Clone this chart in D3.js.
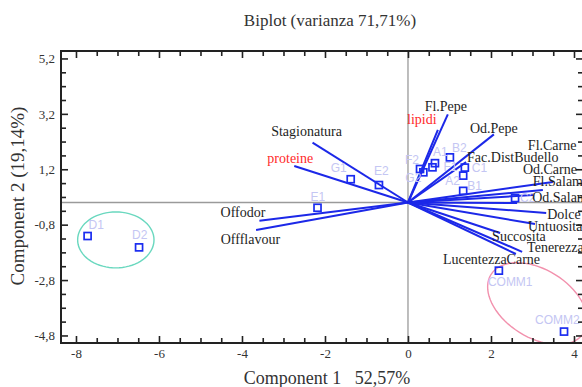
<!DOCTYPE html>
<html>
<head>
<meta charset="utf-8">
<script src="https://cdn.jsdelivr.net/npm/d3@7/dist/d3.min.js"></script>
<style>
  body { margin: 0; background: #fff; }
  svg { display: block; }
</style>
</head>
<body>
<div id="chart"></div>
<script>
// observations (scores)
const pointNames = ["D1", "D2", "E1", "G1", "E2", "F2", "G2", "F1", "A1", "B2", "C1", "A2", "B1", "C2", "COMM1", "COMM2"];
const pointX = [-7.72, -6.48, -2.18, -1.38, -0.70, 0.29, 0.37, 0.59, 0.65, 1.01, 1.37, 1.33, 1.33, 2.58, 2.19, 3.76];
const pointY = [-1.21, -1.62, -0.19, 0.84, 0.63, 1.21, 1.09, 1.27, 1.42, 1.63, 1.26, 0.97, 0.42, 0.16, -2.46, -4.66];

// variables (loadings, already scaled to the plot)
const varNames = ["Stagionatura", "proteine", "Offodor", "Offflavour", "Fl.Pepe", "lipidi", "Od.Pepe", "Fac.DistBudello",
    "Fl.Carne", "Od.Carne", "Fl.Salame", "Od.Salame", "Dolce", "Untuosita", "Succosita", "Tenerezza", "LucentezzaCarne"];
const varX = [-2.30, -2.74, -3.58, -3.66, 0.96, 0.72, 2.07, 1.40, 3.25, 3.01, 3.49, 2.63, 3.33, 3.06, 2.22, 2.75, 2.60];
const varY = [2.16, 1.32, -0.66, -0.99, 3.18, 2.62, 2.46, 1.46, 0.45, 0.27, 0.74, -0.02, -0.38, -0.78, -1.10, -1.78, -1.86];
const redVars = ["proteine", "lipidi"];

// groups (ellipse centre and two half axes, in data units)
const groupNames = ["D", "COMM"];
const groupCx = [-7.04, 3.12];
const groupCy = [-1.35, -3.65];
const groupAxisU = [[0.92, 0], [1.12, -1.05]];
const groupAxisV = [[0, 1.01], [0.434, 1.04]];

const xMajor = [-8, -6, -4, -2, 0, 2, 4];
const yMajor = [5.2, 3.2, 1.2, -0.8, -2.8, -4.8];

const titleText = "Biplot (varianza 71,71%)";
const xTitle = "Component 1   52,57%";
const yTitle = "Component 2 (19,14%)";

// label placement (pixels, relative to the mark)
const varLabelPos = {
    "Stagionatura": ["middle", -6, -7],
    "proteine": ["middle", -4, -3],
    "Offodor": ["end", 6, -4],
    "Offflavour": ["end", 24, 14],
    "Fl.Pepe": ["middle", -2, -3],
    "lipidi": ["middle", -16, -6],
    "Od.Pepe": ["middle", 0, -1],
    "Fac.DistBudello": ["start", 1, 0],
    "Fl.Carne": ["start", -15, -40],
    "Od.Carne": ["start", -10, -21],
    "Fl.Salame": ["start", -20, 4],
    "Od.Salame": ["start", 15, -1],
    "Dolce": ["start", 1, 6],
    "Untuosita": ["start", -7, 7],
    "Succosita": ["start", -8, 8],
    "Tenerezza": ["start", 5, 0],
    "LucentezzaCarne": ["start", -73, 10]
};
const pointLabelPos = {
    D1: [1, -7], D2: [-7, -8], E1: [-7, -7], G1: [-20, -7], E2: [-5, -10],
    F2: [-15, -5], G2: [-18, 10], F1: [11, 4], A1: [-2, -7], B2: [2, -5],
    C1: [7, 4], A2: [-18, 9], B1: [4, -1], C2: [5, 4], COMM1: [-11, 15], COMM2: [-29, -8]
};
const groupColors = { D: "#6ad8bf", COMM: "#f291ad" };

const width = 582, height = 387;
const frame = { left: 61, right: 583, top: 51, bottom: 343 };
const serif = "'Liberation Serif', 'Times New Roman', serif";
const sans = "'Liberation Sans', Arial, sans-serif";

const svg = d3.select("#chart").append("svg")
    .attr("width", width)
    .attr("height", height);

const x = d3.scaleLinear().domain([-8.361, 4.217]).range([frame.left, frame.right]);
const y = d3.scaleLinear().domain([-5.072, 5.469]).range([frame.bottom, frame.top]);

const commaFmt = v => {
    const s = Number.isInteger(v) ? String(v) : v.toFixed(1).replace(".", ",");
    return s;
};

svg.append("defs").append("clipPath").attr("id", "plot-clip")
    .append("rect")
    .attr("x", frame.left).attr("y", frame.top)
    .attr("width", frame.right - frame.left)
    .attr("height", frame.bottom - frame.top);

const plot = svg.append("g").attr("clip-path", "url(#plot-clip)");

// zero lines
plot.append("line")
    .attr("x1", x(0)).attr("x2", x(0))
    .attr("y1", frame.top).attr("y2", frame.bottom)
    .attr("stroke", "#9a9a9a").attr("stroke-width", 1.3);
plot.append("line")
    .attr("x1", frame.left).attr("x2", frame.right)
    .attr("y1", y(0)).attr("y2", y(0))
    .attr("stroke", "#9a9a9a").attr("stroke-width", 1.3);

// group ellipses
const ellipseLine = d3.line().x(d => x(d[0])).y(d => y(d[1])).curve(d3.curveLinearClosed);
groupNames.forEach((g, i) => {
    const pts = d3.range(0, 72).map(k => {
        const t = k / 72 * 2 * Math.PI;
        return [
            groupCx[i] + groupAxisU[i][0] * Math.cos(t) + groupAxisV[i][0] * Math.sin(t),
            groupCy[i] + groupAxisU[i][1] * Math.cos(t) + groupAxisV[i][1] * Math.sin(t)
        ];
    });
    plot.append("path")
        .attr("d", ellipseLine(pts))
        .attr("fill", "none")
        .attr("stroke", groupColors[g])
        .attr("stroke-width", 1.4);
});

// variable vectors
varNames.forEach((name, i) => {
    plot.append("line")
        .attr("x1", x(0)).attr("y1", y(0))
        .attr("x2", x(varX[i])).attr("y2", y(varY[i]))
        .attr("stroke", "#1c28e8")
        .attr("stroke-width", 2);
});

// observation points
pointNames.forEach((name, i) => {
    const off = pointLabelPos[name];
    svg.append("text")
        .attr("x", x(pointX[i]) + off[0])
        .attr("y", y(pointY[i]) + off[1])
        .attr("font-family", sans)
        .attr("font-size", 12)
        .attr("fill", "#c4c6f3")
        .text(name);
});
pointNames.forEach((name, i) => {
    plot.append("rect")
        .attr("x", x(pointX[i]) - 3.5)
        .attr("y", y(pointY[i]) - 3.5)
        .attr("width", 7).attr("height", 7)
        .attr("fill", "none")
        .attr("stroke", "#1a2cf0")
        .attr("stroke-width", 1.7);
});

// variable labels
varNames.forEach((name, i) => {
    const p = varLabelPos[name];
    svg.append("text")
        .attr("x", x(varX[i]) + p[1])
        .attr("y", y(varY[i]) + p[2])
        .attr("text-anchor", p[0])
        .attr("font-family", serif)
        .attr("font-size", 14)
        .attr("fill", redVars.includes(name) ? "#ff2a2a" : "#1e1e1e")
        .text(name);
});

// frame ticks (all pointing inward)
const xMinor = d3.range(-8, 4.01, 0.5).filter(v => !xMajor.includes(v));
const yMinor = d3.range(0, 21).map(k => +(5.2 - k * 0.5).toFixed(1)).filter(v => !yMajor.includes(v));

function tickAxis(axisFn, scale, values, size, labels) {
    return axisFn(scale).tickValues(values).tickSize(-size).tickSizeOuter(0)
        .tickPadding(6).tickFormat(labels ? commaFmt : "");
}

const axes = [
    [d3.axisBottom, x, `translate(0,${frame.bottom})`, xMajor, xMinor, true],
    [d3.axisTop, x, `translate(0,${frame.top})`, xMajor, xMinor, false],
    [d3.axisLeft, y, `translate(${frame.left},0)`, yMajor, yMinor, true],
    [d3.axisRight, y, `translate(${frame.right},0)`, yMajor, yMinor, false]
];
axes.forEach(([fn, sc, tr, major, minor, labels]) => {
    const gMinor = svg.append("g").attr("transform", tr).call(tickAxis(fn, sc, minor, 5, false));
    const gMajor = svg.append("g").attr("transform", tr).call(tickAxis(fn, sc, major, 7, labels));
    [gMinor, gMajor].forEach(g => {
        g.select(".domain").remove();
        g.selectAll(".tick line").attr("stroke", "#222").attr("stroke-width", 1.6);
        g.selectAll(".tick text")
            .attr("font-family", serif)
            .attr("font-size", 13)
            .attr("fill", "#333");
    });
});

svg.append("rect")
    .attr("x", frame.left).attr("y", frame.top)
    .attr("width", frame.right - frame.left)
    .attr("height", frame.bottom - frame.top)
    .attr("fill", "none")
    .attr("stroke", "#222")
    .attr("stroke-width", 2);

// titles
svg.append("text")
    .attr("x", 330).attr("y", 26)
    .attr("text-anchor", "middle")
    .attr("font-family", serif)
    .attr("font-size", 17)
    .attr("fill", "#333")
    .text(titleText);

svg.append("text")
    .attr("x", 327).attr("y", 384)
    .attr("text-anchor", "middle")
    .attr("font-family", serif)
    .attr("font-size", 18)
    .attr("fill", "#333")
    .attr("xml:space", "preserve")
    .style("white-space", "pre")
    .text(xTitle);

svg.append("text")
    .attr("transform", `translate(24,196) rotate(-90)`)
    .attr("text-anchor", "middle")
    .attr("font-family", serif)
    .attr("font-size", 19)
    .attr("fill", "#333")
    .text(yTitle);
</script>
</body>
</html>
